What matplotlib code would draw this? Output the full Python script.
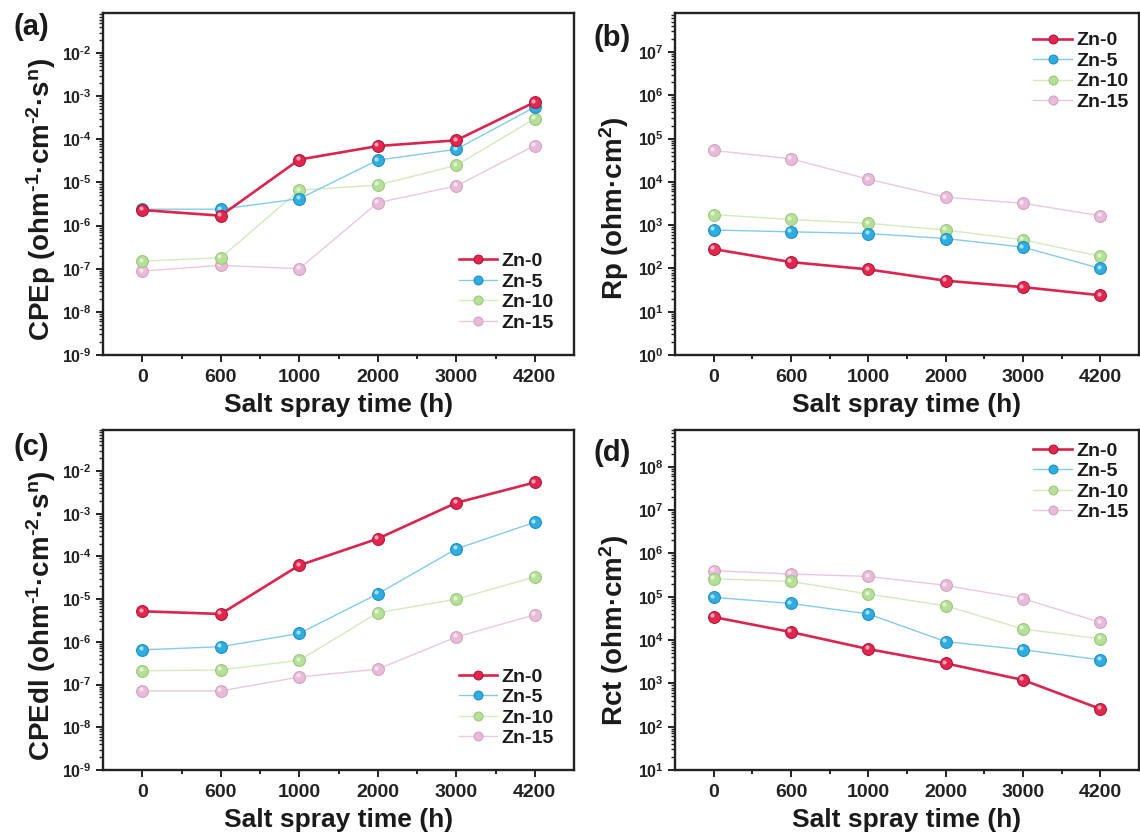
import matplotlib
matplotlib.use('Agg')
import matplotlib.pyplot as plt
import numpy as np
from matplotlib.ticker import LogLocator, FixedLocator, FuncFormatter, NullFormatter
from matplotlib.transforms import offset_copy

plt.rcParams['font.family'] = ['Liberation Sans', 'DejaVu Sans']
plt.rcParams['font.weight'] = 'bold'
plt.rcParams['mathtext.fontset'] = 'custom'
plt.rcParams['mathtext.rm'] = 'Liberation Sans:bold'
plt.rcParams['mathtext.it'] = 'Liberation Sans:bold'
plt.rcParams['mathtext.bf'] = 'Liberation Sans:bold'
plt.rcParams['mathtext.default'] = 'rm'

# ---------------- data ----------------
times = ['0', '600', '1000', '2000', '3000', '4200']
series = ['Zn-0', 'Zn-5', 'Zn-10', 'Zn-15']

cpep_zn0 = [2.3e-6, 1.7e-6, 3.4e-5, 7.0e-5, 9.5e-5, 7.3e-4]
cpep_zn5 = [2.4e-6, 2.4e-6, 4.2e-6, 3.3e-5, 5.9e-5, 5.6e-4]
cpep_zn10 = [1.5e-7, 1.8e-7, 6.6e-6, 8.7e-6, 2.5e-5, 3.0e-4]
cpep_zn15 = [8.8e-8, 1.2e-7, 1.0e-7, 3.4e-6, 8.3e-6, 7.2e-5]

rp_zn0 = [280, 140, 95, 52, 37, 24]
rp_zn5 = [770, 700, 640, 490, 310, 100]
rp_zn10 = [1750, 1350, 1100, 770, 460, 190]
rp_zn15 = [53000, 34000, 11500, 4400, 3200, 1650]

cpedl_zn0 = [5.2e-6, 4.5e-6, 6.2e-5, 2.6e-4, 1.8e-3, 5.4e-3]
cpedl_zn5 = [6.5e-7, 7.7e-7, 1.57e-6, 1.33e-5, 1.5e-4, 6.3e-4]
cpedl_zn10 = [2.1e-7, 2.2e-7, 3.7e-7, 4.8e-6, 1.0e-5, 3.3e-5]
cpedl_zn15 = [7.1e-8, 7.1e-8, 1.5e-7, 2.3e-7, 1.3e-6, 4.3e-6]

rct_zn0 = [34000, 15300, 6200, 2900, 1200, 257]
rct_zn5 = [97000, 70000, 40000, 9200, 6000, 3500]
rct_zn10 = [260000, 226000, 115000, 62000, 18000, 10700]
rct_zn15 = [400000, 334000, 295000, 183000, 90000, 25700]

panel_letters = ['(a)', '(b)', '(c)', '(d)']
ylabels = [r'CPEp (ohm$^{\text{-}1}$·cm$^{\text{-}2}$·s$^{n}$)',
           r'Rp (ohm·cm$^{2}$)',
           r'CPEdl (ohm$^{\text{-}1}$·cm$^{\text{-}2}$·s$^{n}$)',
           r'Rct (ohm·cm$^{2}$)']
xlabel = 'Salt spray time (h)'

# ---------------- styles ----------------
line_colors = ['#d8264e', '#86cbea', '#d3ebbf', '#ecc8df']
marker_colors = ['#e3264f', '#2eaee0', '#b6df97', '#e8bcd9']
edge_colors = ['#b01838', '#1f8fc0', '#9cc77c', '#d4a2c2']
line_widths = [1.9, 1.0, 1.0, 1.0]

W, H = 1140, 832
fig = plt.figure(figsize=(W / 100, H / 100), dpi=100)


def px_axes(left, top, right, bottom):
    return fig.add_axes([left / W, 1 - bottom / H, (right - left) / W, (bottom - top) / H])


axes = [px_axes(103, 13, 574, 355), px_axes(675, 13, 1139, 355),
        px_axes(103, 430, 574, 770), px_axes(675, 430, 1139, 770)]

data = [[cpep_zn0, cpep_zn5, cpep_zn10, cpep_zn15],
        [rp_zn0, rp_zn5, rp_zn10, rp_zn15],
        [cpedl_zn0, cpedl_zn5, cpedl_zn10, cpedl_zn15],
        [rct_zn0, rct_zn5, rct_zn10, rct_zn15]]
ylims = [(1e-9, 10 ** -1.07), (1e0, 10 ** 7.9), (1e-9, 10 ** -1.04), (1e1, 10 ** 8.85)]
ylabel_y = [0.455, 0.43, 0.455, 0.41]
legend_anchor = [(0.755, 0.30), (0.772, 0.945), (0.755, 0.30), (0.772, 0.965)]
letter_pos = [(31, 27), (612, 38), (31, 447), (612, 453)]

x = np.arange(len(times))

for i, ax in enumerate(axes):
    ax.set_yscale('log')
    hl = offset_copy(ax.transData, fig=fig, x=-1.6, y=1.6, units='dots')
    for j, name in enumerate(series):
        ax.plot(x, data[i][j], '-', color=line_colors[j], lw=line_widths[j],
                marker='o', ms=8.5, mfc=marker_colors[j], mec=edge_colors[j], mew=0.8,
                label=name, zorder=3 + (3 - j))
        ax.plot(x, data[i][j], 'o', ms=3, color='white', alpha=0.6, mec='none',
                transform=hl, zorder=3 + (3 - j) + 0.5)
    ax.set_xlim(-0.5, 5.5)
    ax.set_ylim(*ylims[i])
    ax.set_xticks(x)
    ax.set_xticklabels(times)
    ax.xaxis.set_minor_locator(FixedLocator(x[:-1] + 0.5))
    ax.yaxis.set_major_locator(LogLocator(base=10, numticks=30))
    ax.yaxis.set_minor_locator(LogLocator(base=10, subs=np.arange(2, 10), numticks=200))
    ax.yaxis.set_major_formatter(FuncFormatter(
        lambda v, _: r'$10^{\text{%d}}$' % round(np.log10(v))))
    ax.yaxis.set_minor_formatter(NullFormatter())
    for s in ax.spines.values():
        s.set_linewidth(1.7)
        s.set_color('#222222')
    ax.tick_params(axis='both', which='both', direction='out', top=False, right=False,
                   color='#222222', width=1.4)
    ax.tick_params(axis='x', which='major', length=5, pad=5, labelsize=14, labelcolor='#222222')
    ax.tick_params(axis='x', which='minor', length=3)
    ax.tick_params(axis='y', which='major', length=5, pad=3, labelsize=11.5, labelcolor='#222222')
    ax.tick_params(axis='y', which='minor', length=3, width=1.0)
    ax.set_xlabel(xlabel, fontsize=19, fontweight='bold', color='#1a1a1a')
    ax.xaxis.label.set_va('center')
    ax.xaxis.set_label_coords(0.5, -0.146)
    ax.set_ylabel(ylabels[i], fontsize=20, fontweight='bold', color='#1a1a1a')
    ax.yaxis.label.set_va('center')
    ax.yaxis.set_label_coords(-0.132, ylabel_y[i])
    leg = ax.legend(loc='upper left', bbox_to_anchor=legend_anchor[i], frameon=False,
                    fontsize=14, borderpad=0, borderaxespad=0, handlelength=2.0,
                    handletextpad=0.2, labelspacing=0.15, markerscale=0.75)
    for t in leg.get_texts():
        t.set_color('#1a1a1a')
    lx, ly = letter_pos[i]
    fig.text(lx / W, 1 - ly / H, panel_letters[i], fontsize=21, fontweight='bold',
             ha='center', va='center', color='#1a1a1a')

fig.savefig('out.png', dpi=100)
